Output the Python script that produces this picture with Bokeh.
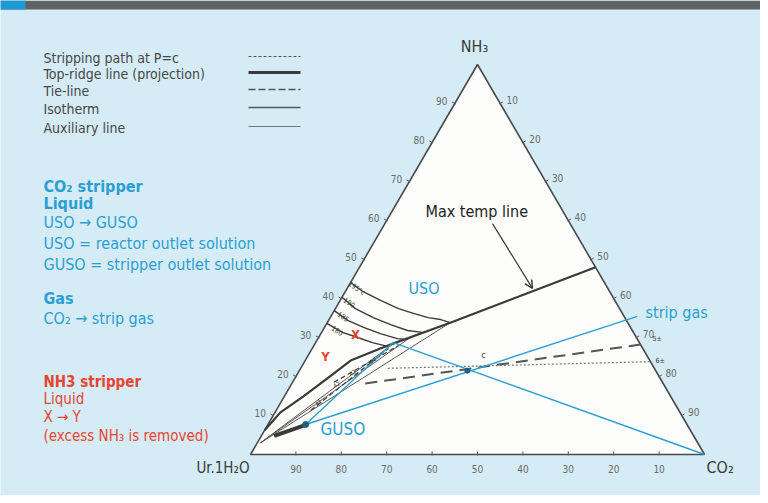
import numpy as np
from bokeh.plotting import figure
from bokeh.models import Range1d, Label, Arrow, OpenHead
from bokeh.embed import file_html
from bokeh.resources import INLINE

# ---------------- data: ternary compositions in % (NH3, CO2); rest = Ur.1H2O
tick_values = [10, 20, 30, 40, 50, 60, 70, 80, 90]

# top-ridge line (projection)
ridge_nh3 = [48.0, 33.8, 28.5, 27.2, 24.1, 19.7, 14.9, 10.8, 6.2]
ridge_co2 = [52.0, 27.1, 17.3, 15.0, 10.0, 7.3, 4.2, 1.2, 0.0]

# isotherms
iso_labels = ["195°c", "190", "185", "180"]
iso1_nh3 = [44.1, 41.8, 39.5, 37.4, 36.2, 35.1, 34.6, 33.8]
iso1_co2 = [0.0, 3.8, 8.9, 13.9, 17.8, 21.6, 24.6, 27.1]
iso2_nh3 = [40.3, 37.4, 35.1, 33.3, 31.8, 31.3]
iso2_co2 = [0.0, 4.4, 9.5, 14.2, 18.7, 22.2]
iso3_nh3 = [36.9, 34.4, 32.6, 31.0, 29.7, 29.5]
iso3_co2 = [0.0, 4.2, 8.6, 13.1, 17.5, 19.4]
iso4_nh3 = [33.6, 31.3, 30.0, 28.7, 27.8]
iso4_co2 = [0.0, 4.6, 8.6, 12.5, 16.1]

# auxiliary lines (fan from the urea corner region)
aux_start_nh3, aux_start_co2 = 3.0, 0.7
aux_end_nh3 = [28.5, 30.0, 33.8]
aux_end_co2 = [17.3, 20.2, 27.1]

# stripping paths inside the bundle
sp1_nh3, sp1_co2 = [11.3, 27.2], [7.6, 16.8]
sp2_nh3, sp2_co2 = [18.5, 27.9], [9.1, 18.6]

# GUSO end (thick stub)
stub_nh3, stub_co2 = [4.9, 7.4], [3.1, 8.0]

# key compositions
guso_nh3, guso_co2 = 7.7, 8.3
uso_nh3, uso_co2 = 28.7, 17.1
stripgas_nh3, stripgas_co2 = 35.4, 67.5
co2_nh3, co2_co2 = 0.0, 100.0
c_nh3, c_co2 = 21.5, 37.0

# tie-line (dashed) and stripping path at P=c (dotted)
tie_nh3, tie_co2 = [18.2, 28.2], [16.2, 71.8]
dot_nh3, dot_co2 = [22.1, 23.8], [19.2, 76.2]

# max temp line pointer
arrow_nh3, arrow_co2 = [59.2, 42.6], [23.7, 40.8]

# ---------------- styling / layout
FONT = "'DejaVu Sans Condensed', Roboto, sans-serif"
BG = "#d5ecf7"
DARK = "#3a3a3a"
GREY = "#555555"
BLUE = "#2b9fd2"
RED = "#e8452f"

S3 = np.sqrt(3) / 2
X0, XS = 250.0, 454.0
Y0, YS = 454.0, 390.0 / S3
W, H = 760, 495


def T(nh3, co2):
    a = np.asarray(nh3, float) / 100.0
    c = np.asarray(co2, float) / 100.0
    return c + a / 2.0, a * S3


def P(x, y):
    return (x - X0) / XS, (Y0 - y) / YS


p = figure(width=W, height=H, output_backend="svg", toolbar_location=None,
           x_range=Range1d((0 - X0) / XS, (W - X0) / XS),
           y_range=Range1d((Y0 - H) / YS, (Y0 - 0) / YS),
           x_axis_location=None, y_axis_location=None,
           min_border=0, background_fill_color=BG, border_fill_color=BG,
           outline_line_color=None)
p.grid.visible = False


def lab(x, y, text, size=14, color=DARK, style="normal", align="left",
        angle=0.0, baseline="middle"):
    X, Y = P(x, y)
    p.add_layout(Label(x=X, y=Y, text=text, text_font=FONT,
                       text_font_size=f"{size}px", text_color=color,
                       text_font_style=style, text_align=align,
                       text_baseline=baseline, angle=angle))


# header bar
hx0, hy0 = P(0, 0)
hx1, hy1 = P(W, 9)
hx2, _ = P(25, 9)
p.quad(left=hx0, right=hx1, top=hy0, bottom=hy1, fill_color="#606163",
       line_color=None)
p.quad(left=hx0, right=hx2, top=hy0, bottom=hy1, fill_color="#1a9ad6",
       line_color=None)

# triangle
tx, ty = T([100, 0, 0], [0, 0, 100])
p.patch(list(tx), list(ty), fill_color="#fdfdfb", line_color="#4a4a4a",
        line_width=1.6)

# ticks and tick labels
tv = np.array(tick_values, float)
L = 0.007
lx, ly = T(tv, np.zeros_like(tv))
p.segment(lx - L * S3, ly + L * 0.5, lx + L * S3 * 0.3, ly - L * 0.15,
          line_color=GREY, line_width=1)
rx, ry = T(100 - tv, tv)
p.segment(rx + L * S3, ry + L * 0.5, rx - L * S3 * 0.3, ry - L * 0.15,
          line_color=GREY, line_width=1)
bx, by = T(np.zeros_like(tv), 100 - tv)
p.segment(bx, by + L, bx, by - 0.002, line_color=GREY, line_width=1)
for v, x, y in zip(tick_values, lx, ly):
    p.add_layout(Label(x=x, y=y, text=str(v), text_font=FONT,
                       text_font_size="10px", text_color="#6a6a6a",
                       text_align="center", text_baseline="middle",
                       x_offset=-13, y_offset=3))
for v, x, y in zip(tick_values, rx, ry):
    p.add_layout(Label(x=x, y=y, text=str(v), text_font=FONT,
                       text_font_size="10px", text_color="#6a6a6a",
                       text_align="center", text_baseline="middle",
                       x_offset=12, y_offset=4))
for v, x, y in zip(tick_values, bx, by):
    p.add_layout(Label(x=x, y=y, text=str(v), text_font=FONT,
                       text_font_size="10px", text_color="#6a6a6a",
                       text_align="center", text_baseline="middle",
                       x_offset=0, y_offset=-14))

# auxiliary lines
for en, ec in zip(aux_end_nh3, aux_end_co2):
    x, y = T([aux_start_nh3, en], [aux_start_co2, ec])
    p.line(x, y, line_color=GREY, line_width=1)

# isotherms
for nh, co in [(iso1_nh3, iso1_co2), (iso2_nh3, iso2_co2),
               (iso3_nh3, iso3_co2), (iso4_nh3, iso4_co2)]:
    x, y = T(nh, co)
    p.line(x, y, line_color=DARK, line_width=1.4)

# top-ridge line
x, y = T(ridge_nh3, ridge_co2)
p.line(x, y, line_color=DARK, line_width=2.2, line_join="round")

# stripping paths in the bundle
for nh, co in [(sp1_nh3, sp1_co2), (sp2_nh3, sp2_co2)]:
    x, y = T(nh, co)
    p.line(x, y, line_color=DARK, line_width=1.2, line_dash="5 3")

# GUSO stub
x, y = T(stub_nh3, stub_co2)
p.line(x, y, line_color=DARK, line_width=4, line_cap="round")

# tie-line and dotted stripping path
x, y = T(tie_nh3, tie_co2)
p.line(x, y, line_color=GREY, line_width=2, line_dash="12 7")
x, y = T(dot_nh3, dot_co2)
p.line(x, y, line_color="#777777", line_width=1.2, line_dash="2 2")

# blue lines
for n0, c0, n1, c1 in [(guso_nh3, guso_co2, uso_nh3, uso_co2),
                       (guso_nh3, guso_co2, stripgas_nh3, stripgas_co2),
                       (uso_nh3, uso_co2, co2_nh3, co2_co2)]:
    x, y = T([n0, n1], [c0, c1])
    p.line(x, y, line_color=BLUE, line_width=1.4)

x, y = T([c_nh3, guso_nh3], [c_co2, guso_co2])
p.scatter(x, y, size=[5, 6], color="#1f5f80")

# max temp arrow
ax, ay = T(arrow_nh3, arrow_co2)
p.add_layout(Arrow(end=OpenHead(size=8, line_color=DARK, line_width=1.5),
                   x_start=ax[0], y_start=ay[0], x_end=ax[1], y_end=ay[1],
                   line_color=DARK, line_width=1.2))

# ---------------- texts
lab(474, 46, "NH₃", 16, DARK, align="center")
lab(249, 467, "Ur.1H₂O", 15, DARK, align="right")
lab(706, 467, "CO₂", 16, DARK)

lab(425, 211, "Max temp line", 16, "#222222")
lab(408, 288, "USO", 16, BLUE)
lab(320, 428, "GUSO", 17, BLUE)
lab(645, 312, "strip gas", 16, BLUE)
lab(355, 334, "X", 13, RED, style="bold", align="center")
lab(325, 356, "Y", 13, RED, style="bold", align="center")
lab(483, 354, "c", 9, DARK, align="center")
lab(652, 338, "5±", 7, DARK)
lab(655, 360, "6±", 7, DARK)

for t, (x0, y0) in zip(iso_labels, [(356, 288), (349, 302), (343, 316), (337, 330)]):
    lab(x0, y0, t, 7, DARK, align="center", angle=-0.6)
for t, (x0, y0) in zip(["41", "42", "43", "44"],
                       [(318, 402), (336, 384), (352, 372), (372, 360)]):
    lab(x0, y0, t, 6, DARK, align="center", angle=0.6)

# legend
legend_items = ["Stripping path at P=c", "Top-ridge line (projection)",
                "Tie-line", "Isotherm", "Auxiliary line"]
legend_styles = [dict(line_width=1, line_dash="3 2", line_color=GREY),
                 dict(line_width=3, line_color=DARK),
                 dict(line_width=1.6, line_dash="7 3", line_color=GREY),
                 dict(line_width=1.6, line_color=GREY),
                 dict(line_width=1, line_color="#777777")]
legend_rows = [57, 73, 90, 108, 127]
for t, st, yy in zip(legend_items, legend_styles, legend_rows):
    lab(43, yy, t, 14, "#474747")
    xa, ya = P(248, yy - 1)
    xb, _ = P(300, yy - 1)
    p.line([xa, xb], [ya, ya], **st)

# blue block
blue_rows = [("CO₂ stripper", "bold", 186), ("Liquid", "bold", 203),
             ("USO → GUSO", "normal", 222), ("USO = reactor outlet solution", "normal", 243),
             ("GUSO = stripper outlet solution", "normal", 264),
             ("Gas", "bold", 298), ("CO₂ → strip gas", "normal", 318)]
for t, s, yy in blue_rows:
    lab(43, yy, t, 16, BLUE, style=s)

red_rows = [("NH3 stripper", "bold", 381), ("Liquid", "normal", 398),
            ("X → Y", "normal", 416), ("(excess NH₃ is removed)", "normal", 435)]
for t, s, yy in red_rows:
    lab(43, yy, t, 15, RED, style=s)

open("out.html", "w").write(file_html(p, INLINE))
